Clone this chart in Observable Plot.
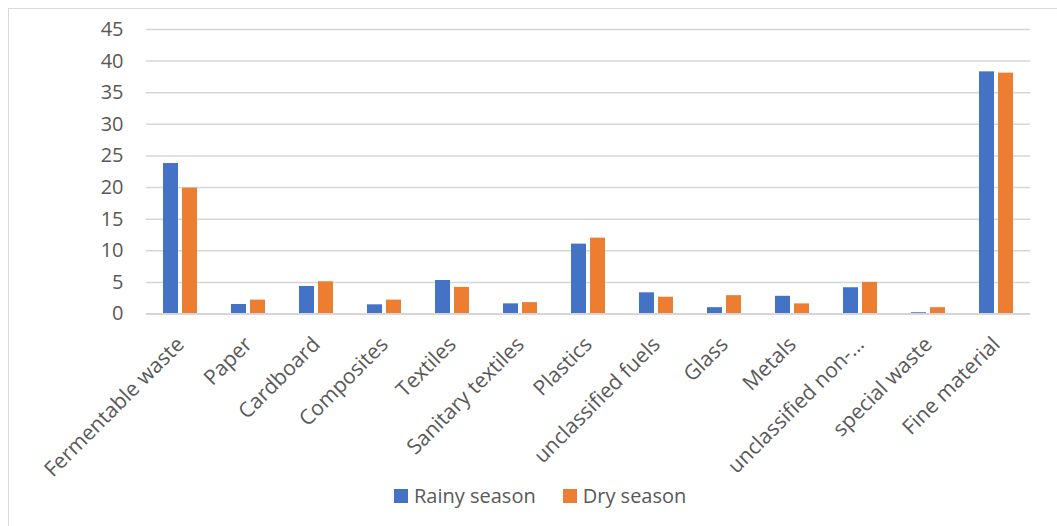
<!DOCTYPE html>
<html><head><meta charset="utf-8">
<script src="https://cdn.jsdelivr.net/npm/d3@7"></script>
<script src="https://cdn.jsdelivr.net/npm/@observablehq/plot@0.6"></script>
<style>
body{margin:0;background:#fff;font-family:"Open Sans",sans-serif;}
#wrap{position:relative;width:1057px;height:526px;overflow:hidden;background:#fff;}
#frame{position:absolute;left:8px;top:8px;width:1200px;height:600px;border-left:1.5px solid #d9d9d9;border-top:1.5px solid #d9d9d9;}
#chart{position:absolute;left:0;top:0;}
#legend{position:absolute;left:394px;top:482px;display:flex;align-items:center;font-size:20px;line-height:27px;color:#595959;font-family:"Open Sans",sans-serif;}
.item{display:flex;align-items:center;margin-right:27px;}
.sw{width:14px;height:14px;display:inline-block;margin-right:6px;}
</style></head>
<body><div id="wrap"><div id="frame"></div><div id="chart"></div><div id="legend"></div></div>
<script>
const categories = ["Fermentable waste","Paper","Cardboard","Composites","Textiles","Sanitary textiles","Plastics","unclassified fuels","Glass","Metals","unclassified non-…","special waste","Fine material"];
const rainySeason = [23.8, 1.5, 4.35, 1.45, 5.3, 1.6, 11.05, 3.35, 1.0, 2.8, 4.15, 0.2, 38.3];
const drySeason   = [19.9, 2.2, 5.1, 2.2, 4.2, 1.8, 12.0, 2.65, 2.9, 1.6, 5.0, 1.0, 38.1];
const yTicks = [0, 5, 10, 15, 20, 25, 30, 35, 40, 45];
const seriesNames = ["Rainy season", "Dry season"];
const seriesColors = ["#4472C4", "#ED7D31"];

const rainyRows = categories.map((c, i) => ({category: c, series: seriesNames[0], value: rainySeason[i]}));
const dryRows = categories.map((c, i) => ({category: c, series: seriesNames[1], value: drySeason[i]}));

const chart = Plot.plot({
  width: 1057, height: 526,
  marginTop: 29, marginLeft: 146, marginRight: 27, marginBottom: 212.5,
  style: {fontFamily: "Open Sans", fontSize: "20px", color: "#595959", background: "transparent", overflow: "visible"},
  x: {domain: categories, padding: 0, label: null},
  y: {domain: [0, 45], label: null},
  color: {domain: seriesNames, range: seriesColors},
  marks: [
    Plot.gridY(yTicks, {stroke: "#d6d6d6", strokeOpacity: 1, strokeWidth: 1.5}),
    Plot.axisY(yTicks, {tickSize: 0, tickPadding: 23, fontSize: 20, fill: "#595959", label: null}),
    Plot.barY(rainyRows, {x: "category", y: "value", fill: "series", insetLeft: 17, insetRight: 36}),
    Plot.barY(dryRows, {x: "category", y: "value", fill: "series", insetLeft: 36, insetRight: 17}),
    Plot.ruleY([0], {stroke: "#d6d6d6", strokeWidth: 2}),
    Plot.axisX({tickSize: 0, tickRotate: -45, tickPadding: 27, fontSize: 21, fill: "#595959", textAnchor: "end", label: null})
  ]
});
document.getElementById("chart").appendChild(chart);

const legend = document.getElementById("legend");
seriesNames.forEach((name, i) => {
  const item = document.createElement("div");
  item.className = "item";
  const sw = document.createElement("span");
  sw.className = "sw";
  sw.style.background = seriesColors[i];
  const t = document.createElement("span");
  t.textContent = name;
  item.appendChild(sw); item.appendChild(t);
  legend.appendChild(item);
});
</script>
</body></html>
